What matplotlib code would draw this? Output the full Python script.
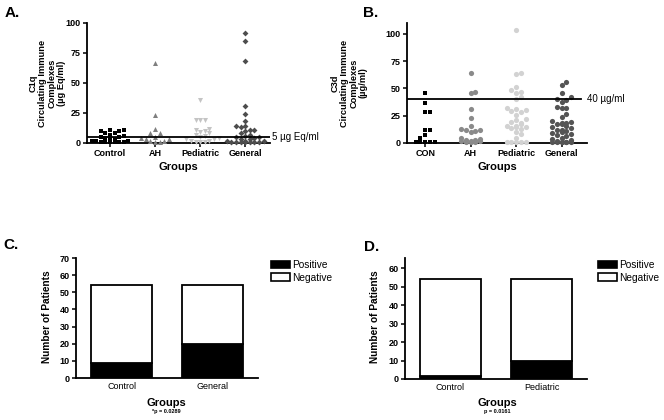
import numpy as np
import matplotlib
matplotlib.use("Agg")
import matplotlib.pyplot as plt
from matplotlib.patches import Patch

plt.rcParams['font.family'] = ['Liberation Sans', 'DejaVu Sans']

## data

# Panel A: C1q circulating immune complexes (ug Eq/ml)
a_groups = ["Control", "AH", "Pediatric", "General"]
a_control = [11, 11, 10, 10, 8, 8, 7, 6, 5, 5, 4, 3, 3, 2, 2, 2, 1, 1, 1, 1, 1, 0.5]
a_ah = [67, 23, 12, 8, 8, 5, 4, 3, 3, 2, 2, 1, 1]
a_ped = [36, 19, 19, 19, 12, 11, 10, 9, 8, 7, 6, 5, 4, 3, 3, 2, 2, 1, 1, 1]
a_gen = [92, 85, 68, 31, 24, 18, 14, 14, 13, 11, 11, 10, 8, 7, 6, 5, 5, 4, 3, 3,
         2, 2, 2, 1, 1, 1, 1, 1, 0.5, 0.5]
a_cut = 5

# Panel B: C3d circulating immune complexes (ug/ml)
b_groups = ["CON", "AH", "Pediatric", "General"]
b_con = [46, 37, 28, 28, 12, 12, 7, 5, 1, 1, 1, 1, 1, 1, 1, 1, 1, 1, 1, 1]
b_ah = [64, 47, 46, 31, 23, 16, 13, 12, 12, 11, 10, 5, 4, 3, 3, 2, 2, 2, 1, 1, 1]
b_ped = [104, 64, 63, 51, 49, 47, 46, 42, 40, 32, 31, 30, 29, 28, 26, 22, 21, 19,
         18, 17, 16, 16, 15, 15, 14, 13, 10, 8, 5, 1, 1, 1, 1, 1]
b_gen = [56, 53, 46, 42, 40, 39, 38, 33, 32, 32, 27, 24, 20, 19, 18, 18, 17, 17,
         16, 15, 14, 12, 12, 11, 10, 9, 8, 7, 6, 5, 4, 3, 2, 1, 1, 1, 1, 1, 1, 1]
b_cut = 40

# Panel C and D: number of patients
c_groups = ["Control", "General"]
c_pos = [9, 20]
c_neg = [45, 34]
d_groups = ["Control", "Pediatric"]
d_pos = [1.5, 10]
d_neg = [52.5, 44]

W, H = 664, 420
fig = plt.figure(figsize=(W / 100, H / 100), dpi=100)


def ax_px(left, top, right, bottom):
    return fig.add_axes([left / W, 1 - bottom / H, (right - left) / W, (bottom - top) / H])


def swarm(vals, x_px, y_px, d=4.6, maxw=0.42):
    # greedy beeswarm limited to +-maxw category units; overlaps allowed when full
    step = d / x_px
    n = int(maxw / step)
    cands = [0.0]
    for k in range(1, n + 1):
        cands += [k * step, -k * step]
    placed = []
    offs = np.zeros(len(vals))
    for i in np.argsort(vals, kind="stable"):
        y = vals[i] * y_px
        best, best_hits = 0.0, None
        for c in cands:
            hits = sum(1 for px, py in placed if abs(c - px) * x_px < d and abs(y - py) < d)
            if best_hits is None or hits < best_hits:
                best, best_hits = c, hits
            if hits == 0:
                break
        offs[i] = best
        placed.append((best, y))
    return offs


def style_axes(ax):
    for s in ["top", "right"]:
        ax.spines[s].set_visible(False)
    for s in ["left", "bottom"]:
        ax.spines[s].set_linewidth(1.3)
    ax.tick_params(width=1.1, length=3, pad=1.5)


bold = dict(fontweight="bold")

# ---- A ----
ax = ax_px(87, 23, 270, 143)
series = [a_control, a_ah, a_ped, a_gen]
markers = ["s", "^", "v", "D"]
sizes = [10, 13, 13, 9]
colors = ["black", "#7f7f7f", "#c4c4c4", "#4d4d4d"]
for i, vals in enumerate(series):
    vals = np.array(vals, dtype=float)
    off = swarm(vals, 45, 1.2)
    ax.scatter(i + off, vals, marker=markers[i], s=sizes[i], color=colors[i],
               linewidths=0, clip_on=False, zorder=3)
ax.set_xlim(-0.51, 3.55)
ax.set_ylim(0, 100)
ax.axhline(a_cut, color="black", lw=1.3, zorder=4)
ax.set_yticks([0, 25, 50, 75, 100])
ax.set_xticks(range(4))
ax.set_xticklabels(a_groups, fontsize=6.5, **bold)
for t in ax.get_yticklabels():
    t.set_fontsize(6.5)
    t.set_fontweight("bold")
style_axes(ax)
ax.text(1.01, a_cut, "5 \u00b5g Eq/ml", transform=ax.get_yaxis_transform(),
        fontsize=7, va="center", ha="left")
fig.text(178 / W, 1 - 167 / H, "Groups", fontsize=8, ha="center", va="center", **bold)
fig.text(47 / W, 1 - 83 / H, "C1q\nCirculating Immune\nComplexes\n(\u00b5g Eq/ml)",
         rotation=90, fontsize=6.7, ha="center", va="center", multialignment="center",
         linespacing=1.05, **bold)
fig.text(5 / W, 1 - 13 / H, "A.", fontsize=11, ha="left", va="center", **bold)

# ---- B ----
ax = ax_px(407, 23, 587, 143)
series = [b_con, b_ah, b_ped, b_gen]
markers = ["s", "o", "o", "o"]
sizes = [11, 14, 14, 14]
colors = ["black", "#8a8a8a", "#d2d2d2", "#545454"]
for i, vals in enumerate(series):
    vals = np.array(vals, dtype=float)
    off = swarm(vals, 45.5, 1.09, d=4.8)
    ax.scatter(i + off, vals, marker=markers[i], s=sizes[i], color=colors[i],
               linewidths=0, clip_on=False, zorder=3)
ax.set_xlim(-0.4, 3.56)
ax.set_ylim(0, 110)
ax.axhline(b_cut, xmax=0.967, color="black", lw=1.3, zorder=4)
ax.set_yticks([0, 25, 50, 75, 100])
ax.set_xticks(range(4))
ax.set_xticklabels(b_groups, fontsize=6.5, **bold)
for t in ax.get_yticklabels():
    t.set_fontsize(6.5)
    t.set_fontweight("bold")
style_axes(ax)
ax.text(1.0, b_cut, "40 \u00b5g/ml", transform=ax.get_yaxis_transform(),
        fontsize=7, va="center", ha="left")
fig.text(497 / W, 1 - 167 / H, "Groups", fontsize=8, ha="center", va="center", **bold)
fig.text(349 / W, 1 - 83 / H, "C3d\nCirculating Immune\nComplexes\n(\u00b5g/ml)",
         rotation=90, fontsize=6.7, ha="center", va="center", multialignment="center",
         linespacing=1.05, **bold)
fig.text(363 / W, 1 - 13 / H, "B.", fontsize=11, ha="left", va="center", **bold)


# ---- C and D ----
def bar_panel(box, groups, pos, neg, ylim, yticks, label_xy, letter, letter_xy, ylab_x, pnote, leg_x):
    ax = ax_px(*box)
    x = np.arange(len(groups))
    ax.bar(x, pos, width=0.67, color="black", edgecolor="black", linewidth=1.3, label="Positive")
    ax.bar(x, neg, bottom=pos, width=0.67, color="white", edgecolor="black", linewidth=1.3,
           label="Negative")
    ax.set_xlim(-0.5, 1.5)
    ax.set_ylim(*ylim)
    ax.set_yticks(yticks)
    ax.set_xticks(x)
    ax.set_xticklabels(groups, fontsize=6.5)
    for t in ax.get_yticklabels():
        t.set_fontsize(6.5)
        t.set_fontweight("bold")
    style_axes(ax)
    ax.tick_params(axis="x", length=0, pad=3)
    fig.text(ylab_x / W, 1 - 317 / H, "Number of Patients", rotation=90, fontsize=7.3,
             ha="center", va="center", **bold)
    fig.text(label_xy[0] / W, 1 - label_xy[1] / H, "Groups", fontsize=8,
             ha="center", va="center", **bold)
    fig.text(label_xy[0] / W, 1 - 411 / H, pnote, fontsize=4, ha="center", va="center", **bold)
    fig.text(letter_xy[0] / W, 1 - letter_xy[1] / H, letter, fontsize=11, ha="left",
             va="center", **bold)
    handles = [Patch(facecolor="black", edgecolor="black", lw=1.2, label="Positive"),
               Patch(facecolor="white", edgecolor="black", lw=1.2, label="Negative")]
    fig.legend(handles=handles, loc="upper left", bbox_to_anchor=(leg_x / W, 1 - 260 / H),
               frameon=False, fontsize=7.3, handlelength=1.9, handleheight=0.75,
               handletextpad=0.2, labelspacing=0.25, borderpad=0, borderaxespad=0)
    return ax


bar_panel((76, 258, 258, 378), c_groups, c_pos, c_neg, (0, 70), range(0, 71, 10),
          (166, 403), "C.", (3, 245), 47, "*p = 0.0289", 271)
bar_panel((405, 258, 587, 379), d_groups, d_pos, d_neg, (0, 65.5), range(0, 61, 10),
          (497, 403), "D.", (364, 247), 375, "p = 0.0161", 598)

fig.savefig("out.png", dpi=100)
